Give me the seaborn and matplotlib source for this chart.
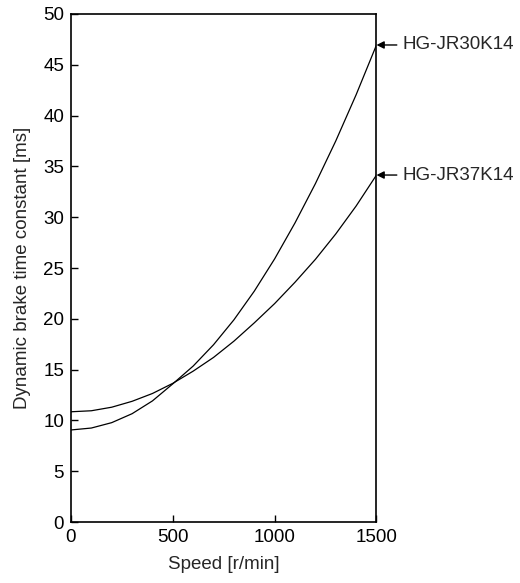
import pandas as pd
import seaborn as sns
import matplotlib
matplotlib.use("Agg")
from matplotlib import pyplot as plt

# speed [r/min] and time constant [ms]
speed = [0, 100, 200, 300, 400, 500, 600, 700, 800, 900, 1000, 1100, 1200, 1300, 1400, 1500]
jr30k14 = [9.06, 9.25, 9.78, 10.66, 11.92, 13.6, 15.35, 17.45, 19.9, 22.72, 25.9, 29.44, 33.3, 37.5, 42.05, 46.95]
jr37k14 = [10.85, 10.95, 11.3, 11.88, 12.65, 13.65, 14.85, 16.2, 17.8, 19.6, 21.5, 23.6, 25.85, 28.35, 31.1, 34.15]
models = ["HG-JR30K14", "HG-JR37K14"]

df = pd.DataFrame({
    "speed": speed * 2,
    "tc": jr30k14 + jr37k14,
    "model": [models[0]] * len(speed) + [models[1]] * len(speed),
})

sns.set_style("ticks")
plt.rcParams["font.family"] = ["Liberation Sans", "DejaVu Sans"]
plt.rcParams["font.size"] = 13.5

fig = plt.figure(figsize=(5.2, 5.83), dpi=100)
ax = fig.add_axes([0.1365, 0.1046, 0.5875, 0.8714])

sns.lineplot(data=df, x="speed", y="tc", hue="model",
             palette=["black", "black"], linewidth=0.9, legend=False, ax=ax)

ax.set_xlim(0, 1500)
ax.set_ylim(0, 50)
ax.set_xticks([0, 500, 1000, 1500])
ax.set_yticks(range(0, 51, 5))
ax.tick_params(direction="in", length=5, width=1, colors="black",
               labelsize=13.5, pad=5)
for s in ax.spines.values():
    s.set_visible(True)
    s.set_linewidth(1.2)
    s.set_color("black")

ax.set_xlabel("Speed [r/min]", fontsize=13.5, labelpad=7)
ax.set_ylabel("Dynamic brake time constant [ms]", fontsize=13.5, labelpad=9)

# labels at the right end of each curve
for name, vals in zip(models, [jr30k14, jr37k14]):
    ax.annotate(name, xy=(speed[-1], vals[-1]), xytext=(19, 0),
                textcoords="offset points", ha="left", va="center",
                fontsize=13.5, annotation_clip=False,
                arrowprops=dict(arrowstyle="-|>", color="black", lw=1,
                                shrinkA=2, shrinkB=0, mutation_scale=11))

plt.savefig("out.png", dpi=100)
